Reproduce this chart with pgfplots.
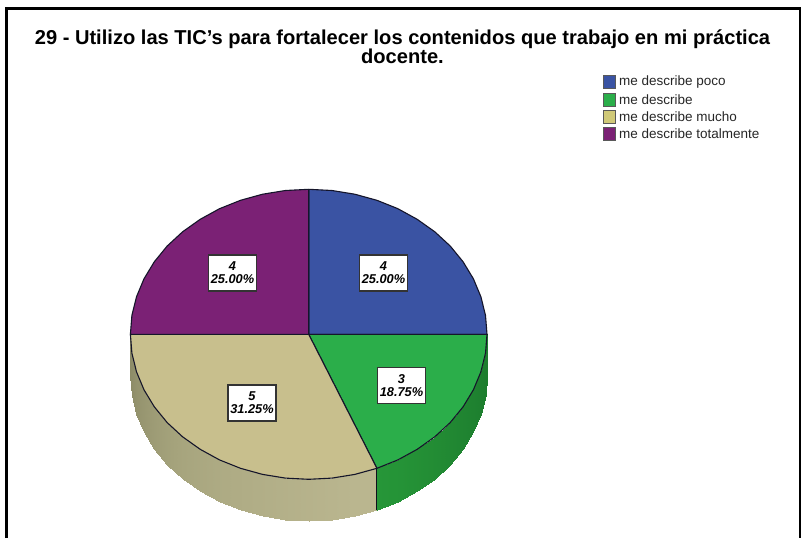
\documentclass[border=0pt]{standalone}
\usepackage{fontspec}
\setmainfont{Liberation Sans}
\usepackage{pgfplots}
\pgfplotsset{compat=1.18}
\definecolor{cblue}{HTML}{3A53A3}
\definecolor{cgreen}{HTML}{2BAE4A}
\definecolor{ctan}{HTML}{C8BF8D}
\definecolor{cpurple}{HTML}{7B2175}
\definecolor{edge}{HTML}{15152A}
\pgfplotsset{
  colormap={tanside}{rgb255=(140,139,103) rgb255=(165,163,124) rgb255=(186,182,143)},
  colormap={greenside}{rgb255=(38,150,56) rgb255=(29,125,46)},
  slice/.style={fill=#1,draw=edge,line width=1.1pt,line join=round},
  swatch/.style={fill=#1,draw=black!65,line width=1pt},
}
\newcommand{\lab}[3]{\node[fill=white,draw=black!80,line width=1.3pt,inner sep=0pt,minimum width=48pt,minimum height=36pt,align=center,font=\fontsize{12.8}{13}\selectfont\bfseries\itshape] at (axis cs:#1,#2) {#3};}
\begin{document}
\begin{tikzpicture}
\begin{axis}[
  scale only axis,width=802pt,height=538pt,
  xmin=0,xmax=802,ymin=0,ymax=538,y dir=reverse,
  xtick=\empty,ytick=\empty,axis line style={draw=none},
  point meta min=0,point meta max=1,clip=true,
]
% frame
\addplot[black,line width=2.6pt,forget plot] coordinates {(6.5,538)(6.5,8.5)(800,8.5)(800,538)};
% side walls
\addplot[surf,shader=interp,colormap name=tanside,mesh/rows=2,mesh/cols=16,point meta=\thisrow{c}] table {
x y c
376.9 468.3 1
354.8 474.4 1
332.0 478.1 .95
308.7 479.3 .9
285.4 478.1 .85
262.6 474.4 .8
240.5 468.3 .75
219.5 459.9 .7
200.2 449.3 .62
182.6 436.8 .55
167.2 422.6 .45
154.3 406.8 .35
144.0 389.8 .25
136.5 371.8 .15
131.9 353.2 .05
130.4 334.3 0
376.9 510.3 1
354.8 516.4 1
332.0 520.1 .95
308.7 521.3 .9
285.4 520.1 .85
262.6 516.4 .8
240.5 510.3 .75
219.5 501.9 .7
200.2 491.3 .62
182.6 478.8 .55
167.2 464.6 .45
154.3 448.8 .35
144.0 431.8 .25
136.5 413.8 .15
131.9 395.2 .05
130.4 376.3 0
};
\addplot[surf,shader=interp,colormap name=greenside,mesh/rows=2,mesh/cols=10,point meta=\thisrow{c}] table {
x y c
487.0 334.3 1
485.5 353.2 1
480.9 371.8 .9
473.4 389.8 .8
463.1 406.8 .7
450.2 422.6 .55
434.8 436.8 .4
417.2 449.3 .25
397.9 459.9 .1
376.9 468.3 0
487.0 376.3 1
485.5 395.2 1
480.9 413.8 .9
473.4 431.8 .8
463.1 448.8 .7
450.2 464.6 .55
434.8 478.8 .4
417.2 491.3 .25
397.9 501.9 .1
376.9 510.3 0
};
\addplot[edge!70!black,line width=1.1pt] coordinates {(376.9,468.3)(376.9,510.3)};
% top faces
\addplot[slice=cblue] coordinates {(308.7,334.3)(308.7,189.3)(332.0,190.5)(354.8,194.2)(376.9,200.3)(397.9,208.7)(417.2,219.3)(434.8,231.8)(450.2,246.0)(463.1,261.8)(473.4,278.8)(480.9,296.8)(485.5,315.4)(487.0,334.3)} -- cycle;
\addplot[slice=cgreen] coordinates {(308.7,334.3)(487.0,334.3)(485.5,353.2)(480.9,371.8)(473.4,389.8)(463.1,406.8)(450.2,422.6)(434.8,436.8)(417.2,449.3)(397.9,459.9)(376.9,468.3)} -- cycle;
\addplot[slice=ctan] coordinates {(308.7,334.3)(376.9,468.3)(354.8,474.4)(332.0,478.1)(308.7,479.3)(285.4,478.1)(262.6,474.4)(240.5,468.3)(219.5,459.9)(200.2,449.3)(182.6,436.8)(167.2,422.6)(154.3,406.8)(144.0,389.8)(136.5,371.8)(131.9,353.2)(130.4,334.3)} -- cycle;
\addplot[slice=cpurple] coordinates {(308.7,334.3)(130.4,334.3)(131.9,315.4)(136.5,296.8)(144.0,278.8)(154.3,261.8)(167.2,246.0)(182.6,231.8)(200.2,219.3)(219.5,208.7)(240.5,200.3)(262.6,194.2)(285.4,190.5)(308.7,189.3)} -- cycle;
% legend swatches
\addplot[swatch=cblue] coordinates {(603.5,75.5)(615.5,75.5)(615.5,88.5)(603.5,88.5)} -- cycle;
\addplot[swatch=cgreen] coordinates {(603.5,93)(615.5,93)(615.5,106)(603.5,106)} -- cycle;
\addplot[swatch={ctan!85!yellow}] coordinates {(603.5,110.3)(615.5,110.3)(615.5,123.3)(603.5,123.3)} -- cycle;
\addplot[swatch=cpurple] coordinates {(603.5,127.6)(615.5,127.6)(615.5,140.6)(603.5,140.6)} -- cycle;
% title
\node[align=center,anchor=base,font=\fontsize{20.1}{17.5}\selectfont\bfseries] at (axis cs:402.5,63.5) {29 - Utilizo las TIC’s para fortalecer los contenidos que trabajo en mi práctica\\[-1pt]docente.};
% legend text
\begin{scope}[every node/.style={anchor=west,inner sep=0pt,font=\fontsize{13.5}{14}\selectfont,text=black!85}]
\node at (axis cs:619,82) {me describe poco};
\node at (axis cs:619,99.5) {me describe};
\node at (axis cs:619,116.8) {me describe mucho};
\node at (axis cs:619,134) {me describe totalmente};
\end{scope}
% slice labels
\lab{383.5}{273}{4\\25.00\%}
\lab{232.5}{273}{4\\25.00\%}
\lab{401.5}{385.5}{3\\18.75\%}
\lab{252}{403}{5\\31.25\%}
\end{axis}
\end{tikzpicture}
\end{document}
